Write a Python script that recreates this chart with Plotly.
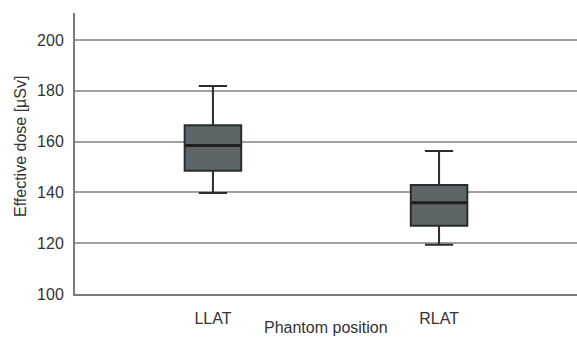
import plotly.graph_objects as go

categories = ["LLAT", "RLAT"]
lower_whisker = [139.8, 119.4]
q1_vals = [148.5, 126.9]
median_vals = [158.4, 135.9]
q3_vals = [166.4, 142.9]
upper_whisker = [181.9, 156.3]
y_ticks = [100, 120, 140, 160, 180, 200]

FONT = "Liberation Sans, Arial, Helvetica, sans-serif"

fig = go.Figure()
fig.add_trace(go.Box(
    x=categories,
    q1=q1_vals, median=median_vals, q3=q3_vals,
    lowerfence=lower_whisker, upperfence=upper_whisker,
    fillcolor="#5d6569",
    line=dict(color="#2a2d2f", width=2),
    whiskerwidth=0.5,
    width=0.25,
    boxpoints=False,
    hoverinfo="skip",
    showlegend=False,
))
# thicker median line
for i, c in enumerate(categories):
    fig.add_shape(type="line", xref="x", yref="y",
                  x0=i - 0.125, x1=i + 0.125, y0=median_vals[i], y1=median_vals[i],
                  line=dict(color="#1e2022", width=3), layer="above")

fig.update_layout(
    width=577, height=338,
    margin=dict(l=75, r=0, t=13, b=44),
    plot_bgcolor="white", paper_bgcolor="white",
    font=dict(family=FONT, size=16, color="#333333"),
    xaxis=dict(
        range=[-0.61, 1.61],
        showgrid=False, zeroline=False,
        showline=True, linecolor="#7a7a7a", linewidth=2,
        ticks="", ticklabelstandoff=9,
        tickfont=dict(size=16, color="#333333"),
    ),
    yaxis=dict(
        range=[100, 210.6],
        tickvals=y_ticks,
        showgrid=True, gridcolor="#a0a0a0", gridwidth=1.5,
        zeroline=False,
        showline=True, linecolor="#7a7a7a", linewidth=2,
        ticks="", ticklabelstandoff=6,
        tickfont=dict(size=16, color="#333333"),
    ),
)
fig.add_annotation(text="Phantom position", x=0.5, xref="x",
                   y=-(327 - 294) / (338 - 13 - 44), yref="paper",
                   showarrow=False, font=dict(size=16, color="#333333"),
                   yanchor="middle")
fig.add_annotation(text="Effective dose [µSv]", textangle=-90,
                   xref="paper", yref="paper",
                   x=-(75 - 20) / (577 - 75), y=(294 - 147) / (294 - 13),
                   showarrow=False, font=dict(size=16, color="#333333"),
                   xanchor="center", yanchor="middle")

fig.write_html("out.html", config={"displayModeBar": False},
               post_script="document.body.style.margin='0';document.body.style.overflow='hidden';")
